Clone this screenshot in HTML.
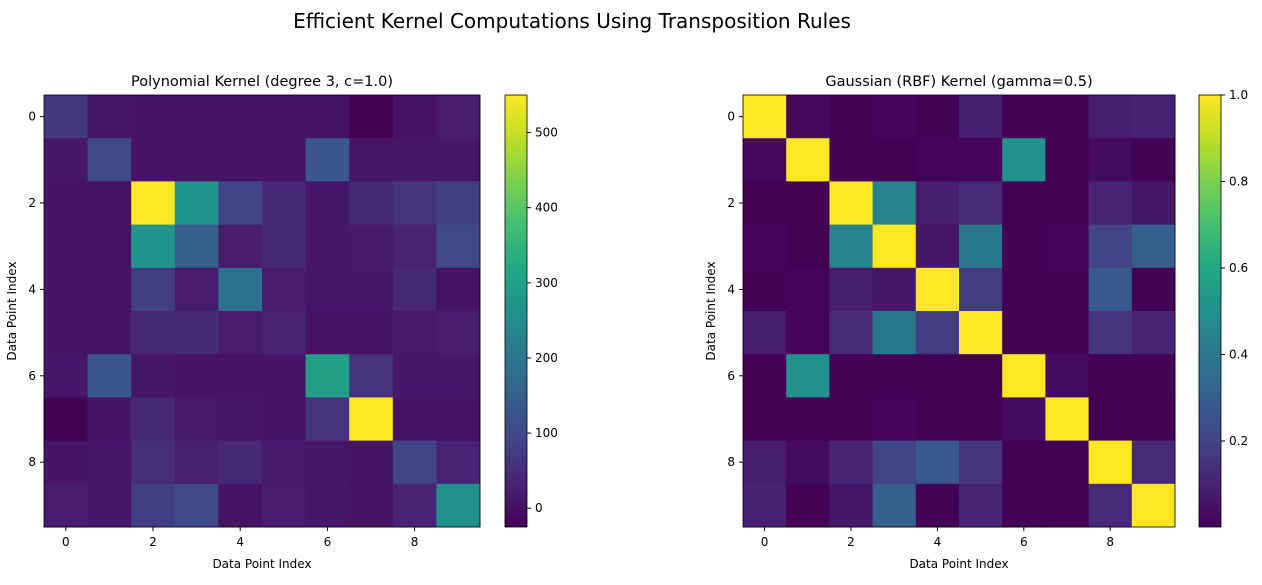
<!DOCTYPE html>
<html><head><meta charset="utf-8"><style>
body{margin:0;background:#fff;font-family:"Liberation Sans","DejaVu Sans",sans-serif}
svg text{font-family:"DejaVu Sans","Liberation Sans",sans-serif;fill:#000}
</style></head><body>
<svg id="fig" width="1262" height="580" xmlns="http://www.w3.org/2000/svg">
<text x="572" y="28" font-size="20" text-anchor="middle">Efficient Kernel Computations Using Transposition Rules</text>
</svg>
<script>
const polyValues=[
[70,10,5,5,5,5,5,-25,5,20],
[10,100,5,5,5,5,130,10,10,10],
[5,5,550,270,90,40,10,40,60,80],
[5,5,270,150,20,40,10,15,30,100],
[5,5,80,20,190,20,10,10,40,5],
[5,5,40,40,20,30,5,5,15,20],
[10,130,10,5,5,5,300,60,10,10],
[-25,5,40,15,10,5,60,550,5,5],
[5,10,50,25,40,15,10,5,90,30],
[20,10,80,100,5,20,10,5,30,260]];
const rbfValues=[
[1,.02,.002,.01,.005,.08,.005,.005,.08,.09],
[.02,1,.002,.002,.01,.01,.5,.005,.03,.005],
[.002,.002,1,.45,.08,.12,.005,.005,.1,.06],
[.01,.002,.45,1,.06,.4,.005,.01,.2,.3],
[.005,.01,.08,.06,1,.18,.005,.005,.28,.005],
[.08,.01,.12,.4,.18,1,.005,.005,.15,.1],
[.005,.5,.005,.005,.005,.002,1,.03,.005,.005],
[.005,.005,.005,.01,.005,.005,.03,1,.002,.002],
[.08,.03,.1,.2,.28,.15,.005,.002,1,.12],
[.09,.005,.06,.3,.005,.1,.005,.002,.12,1]];
const axisTicks=[0,2,4,6,8];
const polyCbarTicks=[0,100,200,300,400,500];
const rbfCbarTicks=[0.2,0.4,0.6,0.8,1.0];
const vir=["#440154","#482475","#414487","#355f8d","#2a788e","#21918c","#22a884","#44bf70","#7ad151","#bddf26","#fde725"];
function hx(c){return [1,3,5].map(i=>parseInt(c.substr(i,2),16));}
function cmap(t){t=Math.max(0,Math.min(1,t))*10;const i=Math.min(9,Math.floor(t)),f=t-i;const a=hx(vir[i]),b=hx(vir[i+1]);return `rgb(${a.map((v,k)=>Math.round(v+(b[k]-v)*f)).join(',')})`;}
const svg=document.getElementById('fig');const NS="http://www.w3.org/2000/svg";
function el(tag,attrs,parent){const e=document.createElementNS(NS,tag);for(const k in attrs)e.setAttribute(k,attrs[k]);(parent||svg).appendChild(e);return e;}
function txt(x,y,s,size,anchor,parent){const t=el('text',{x:x,y:y,'font-size':size,'text-anchor':anchor},parent);t.textContent=s;return t;}
let gid=0;
function panel(data,x0,y0,w,h,vmin,vmax,title,cbx,cbTicks,fmt,key){
 const g=el('g',{});
 
 
 const n=data.length,cw=w/n,ch=h/n;
 const sx=i=>x0+(i+0.5)*cw, sy=i=>y0+(i+0.5)*ch;
 data.forEach((row,r)=>row.forEach((v,c)=>{
  const rc=el('rect',{x:x0+c*cw,y:y0+r*ch,width:cw+0.5,height:ch+0.5,fill:cmap((v-vmin)/(vmax-vmin))},g);
  
  
 }));
 el('rect',{x:x0,y:y0,width:w,height:h,fill:'none',stroke:'#000','stroke-width':0.8},g);
 axisTicks.forEach(t=>{
  el('line',{x1:sx(t),x2:sx(t),y1:y0+h,y2:y0+h+4,stroke:'#000'},g);
  const a=txt(sx(t),y0+h+19,String(t),12,'middle',g);
  
  el('line',{x1:x0-4,x2:x0,y1:sy(t),y2:sy(t),stroke:'#000'},g);
  const b=txt(x0-8,sy(t)+4,String(t),12,'end',g);
  
 });
 const tt=txt(x0+w/2,y0-9,title,14.5,'middle',g);
 
 const xl=txt(x0+w/2,y0+h+41,'Data Point Index',12,'middle',g);
 
 const yl=txt(0,0,'Data Point Index',12,'middle',g);
 yl.setAttribute('transform',`translate(${x0-28},${y0+h/2}) rotate(-90)`);
 
 const id='grad'+(gid++);const gr=el('linearGradient',{id:id,x1:0,y1:1,x2:0,y2:0},g);
 vir.forEach((c,i)=>el('stop',{offset:i/10,'stop-color':c},gr));
 const cb=el('rect',{x:cbx,y:y0,width:22,height:h,fill:`url(#${id})`,stroke:'#000','stroke-width':0.8},g);
 
 const cy=v=>y0+h-(v-vmin)/(vmax-vmin)*h;
 cbTicks.forEach(v=>{el('line',{x1:cbx+22,x2:cbx+26,y1:cy(v),y2:cy(v),stroke:'#000'},g);
  const l=txt(cbx+30,cy(v)+4,fmt(v),12,'start',g);
  });
}
panel(polyValues,44,95,436,432,-25,550,'Polynomial Kernel (degree 3, c=1.0)',505,polyCbarTicks,v=>String(v),'polynomial');
panel(rbfValues,743,95,432,432,0.001,1,'Gaussian (RBF) Kernel (gamma=0.5)',1199,rbfCbarTicks,v=>v.toFixed(1),'rbf');
</script>
</body></html>
